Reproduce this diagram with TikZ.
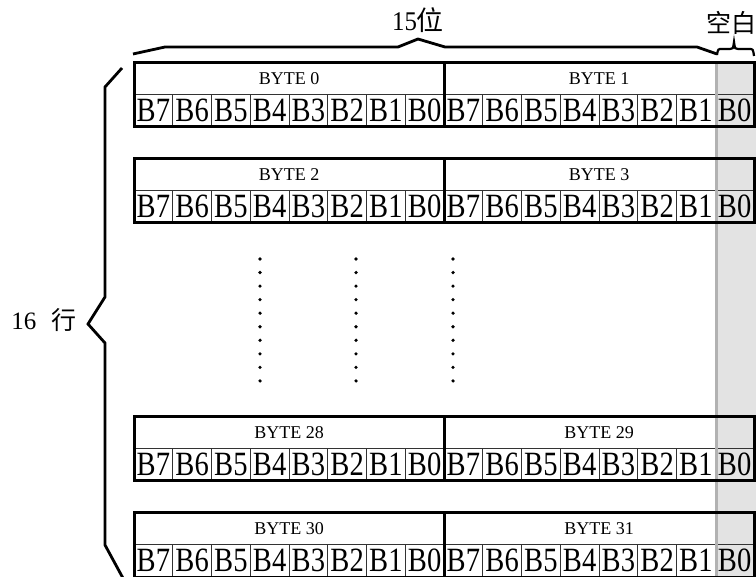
\documentclass[tikz,border=0pt]{standalone}
\usepackage{fontspec}
\setmainfont{Liberation Serif}
\newfontfamily\cjk{Noto Sans CJK SC}
\begin{document}
\begin{tikzpicture}[x=1pt,y=-1pt,
  bitcell/.style={draw=black!80, line width=0.8pt, minimum width=38.75pt, minimum height=33pt, inner sep=0pt, font=\fontsize{34}{34}\selectfont},
  bytebox/.style={draw, line width=3pt, minimum width=310pt, minimum height=64pt, inner sep=0pt},
  bytelabel/.style={font=\fontsize{18}{18}\selectfont, inner sep=0pt},
  bracepath/.style={line width=2.8pt, line join=miter},
  dotmark/.style={circle, fill, inner sep=0pt, minimum size=3.6pt},
  bigtext/.style={font=\fontsize{25}{25}\selectfont, inner sep=0pt}]
\useasboundingbox (0,0) rectangle (756,577);
% grey blank column
\fill[black!11] (716,63) rectangle (756,580);
% bit cells
\foreach \r/\T/\na/\nb in {1/63/0/1, 2/159/2/3, 3/417/28/29, 4/513/30/31} {
  \foreach \b/\X in {0/134, 1/444} {
    \foreach \k in {0,...,7} {
      \pgfmathtruncatemacro\bit{7-\k}
      \node[bitcell] (c\r-\b-\k) at (\X+19.375+38.75*\k, \T+47.5) {\scalebox{0.84}[1]{B\bit}};
    }
  }
}
\draw[line width=2.4pt, black!30] (716.3,63) -- (716.3,580);
% byte boxes and labels
\foreach \r/\T/\na/\nb in {1/63/0/1, 2/159/2/3, 3/417/28/29, 4/513/30/31} {
  \node[bytebox] (box\r-0) at (289, \T+32) {};
  \node[bytebox] (box\r-1) at (599, \T+32) {};
  \node[bytelabel] (lab\r-0) at (289, \T+16) {BYTE \na};
  \node[bytelabel] (lab\r-1) at (599, \T+16) {BYTE \nb};
}
% dots
\foreach \cx [count=\i] in {260,356,453} {
  \foreach \j in {0,...,9} {
    \node[dotmark] (d\i-\j) at (\cx, 259+13.55*\j) {};
  }
}
% top brace
\draw[bracepath] (133,54) -- (165,47) -- (398,47) -- (418,39) -- (445,47) -- (697,47) -- (717,54);
\node[bigtext] (t15) at (418,20) {\fontsize{27}{27}\selectfont\scalebox{0.92}[1]{15}{\cjk 位}};
% small brace
\draw[line width=2.2pt] (717,55) .. controls (718,49) .. (722,49) -- (730,49) .. controls (733,49) .. (734,42) .. controls (735,49) .. (738,49) -- (749,49) .. controls (753,49) .. (754,56);
\node[bigtext] (tblank) at (731,23) {\cjk 空白};
% left brace
\draw[bracepath] (122,68) -- (105,87) -- (105,297) -- (88,324) -- (105,343) -- (105,545) -- (124,580);
\node[bigtext] (t16) at (44,320) {16\hspace{15pt}{\cjk 行}};
\end{tikzpicture}
\end{document}
